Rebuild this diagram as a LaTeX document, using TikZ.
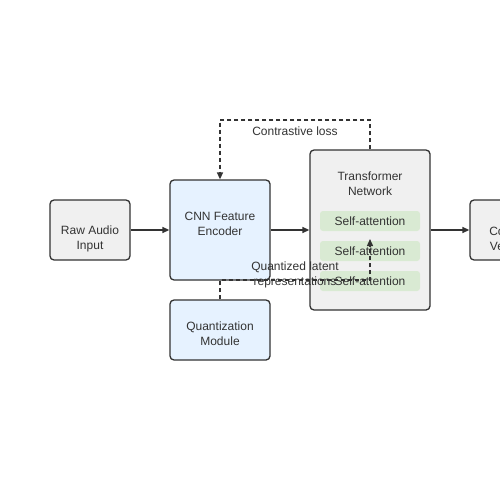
\documentclass[tikz,border=0pt]{standalone}
\usepackage{fontspec}
\setmainfont{Liberation Sans}
\usetikzlibrary{arrows.meta}
\definecolor{ink}{HTML}{333333}
\definecolor{greyfill}{HTML}{F0F0F0}
\definecolor{bluefill}{HTML}{E6F2FF}
\definecolor{greenfill}{HTML}{D9EAD3}
\begin{document}
\begin{tikzpicture}[x=1pt,y=-1pt,
  every node/.style={font=\fontsize{12}{15}\selectfont, text=ink, align=center, inner sep=0pt},
  box/.style={draw=ink, line width=1.3pt, rounded corners=4pt, minimum width=#1},
  grey/.style={fill=greyfill},
  blue/.style={fill=bluefill},
  attn/.style={fill=greenfill, rounded corners=3pt, minimum width=100pt, minimum height=20pt},
  conn/.style={draw=ink, line width=1.3pt, -{Triangle[length=7pt,width=6pt]}},
  dconn/.style={draw=ink, line width=1.3pt, dash pattern=on 4pt off 3pt, -{Triangle[length=7pt,width=6pt]}}
]
\useasboundingbox (0,0) rectangle (500,500);
\fill[white] (0,0) rectangle (500,500);
\node[box=80pt, grey, minimum height=60pt] (raw) at (90,230) {};
\node (rawt) at (90,238.5) {Raw Audio\\Input};
\node[box=100pt, blue, minimum height=100pt] (cnn) at (220,230) {};
\node (cnnt) at (220,223.5) {CNN Feature\\Encoder};
\node[box=100pt, blue, minimum height=60pt] (quant) at (220,330) {};
\node (quantt) at (220,333.5) {Quantization\\Module};
\node[box=120pt, grey, minimum height=160pt] (trans) at (370,230) {};
\node (ttitle) at (370,183.5) {Transformer\\Network};
\node[attn] (sa1) at (370,221) {Self-attention};
\node[attn] (sa2) at (370,251) {Self-attention};
\node[attn] (sa3) at (370,281) {Self-attention};
\node[box=80pt, grey, minimum height=60pt] (out) at (510,230) {};
\node (outt) at (510,238.5) {Context\\Vectors};
\draw[conn] (raw) -- (cnn);
\draw[conn] (cnn) -- (trans);
\draw[conn] (trans) -- (out);
\coordinate (c1) at (370,120);
\coordinate (c2) at (220,120);
\draw[dconn] (trans.north) -- (c1) -- (c2) -- (cnn.north);
\node (cl) at (295,131) {Contrastive loss};
\coordinate (q1) at (220,280);
\coordinate (q2) at (370,280);
\coordinate (q3) at (370,239);
\draw[dconn] (quant.north) -- (q1) -- (q2) -- (q3);
\node (ql) at (295,274.5) {Quantized latent\\representations};
\end{tikzpicture}
\end{document}
